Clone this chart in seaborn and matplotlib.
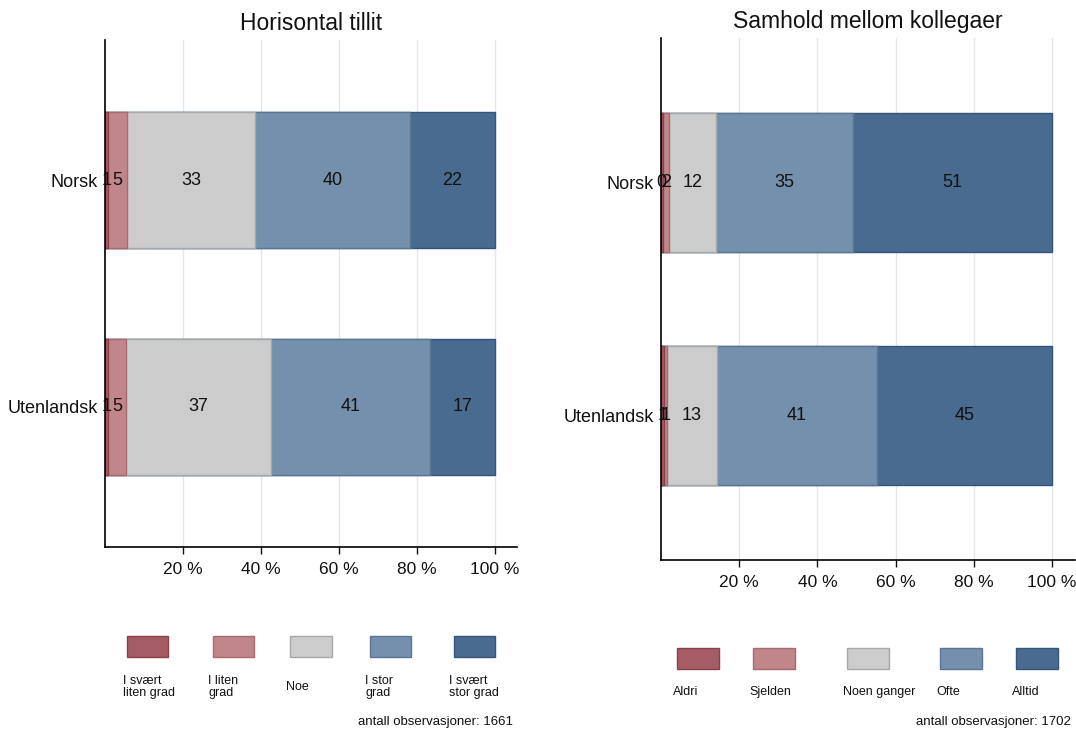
import seaborn as sns
import matplotlib.pyplot as plt
import pandas as pd
from matplotlib.patches import Rectangle

# Data (percent)
groups = ['Norsk', 'Utenlandsk']

tillit_cats = ['I svært\nliten grad', 'I liten\ngrad', 'Noe', 'I stor\ngrad', 'I svært\nstor grad']
tillit_norsk = [0.8, 4.9, 32.8, 39.6, 21.9]
tillit_utenl = [0.8, 4.6, 37.2, 40.6, 16.8]
tillit_n = 1661

samhold_cats = ['Aldri', 'Sjelden', 'Noen ganger', 'Ofte', 'Alltid']
samhold_norsk = [0.4, 1.6, 12.0, 35.0, 51.0]
samhold_utenl = [0.8, 0.8, 12.6, 41.0, 44.8]
samhold_n = 1702

colors = ['#a65c64', '#c0868a', '#cccccc', '#7590ac', '#486b8f']
edges = ['#8a4048', '#a86a70', '#a8a8a8', '#5a7694', '#34557a']

tick_vals = [20, 40, 60, 80, 100]
tick_labels = ['20 %', '40 %', '60 %', '80 %', '100 %']

sns.set_style('white')
plt.rcParams['font.family'] = ['Liberation Sans', 'DejaVu Sans']

W, H = 1076, 731
fig = plt.figure(figsize=(W / 100, H / 100), dpi=100)


def px_axes(x0, y0, x1, y1):
    # pixel box (top-left origin) -> figure axes
    return fig.add_axes([x0 / W, 1 - y1 / H, (x1 - x0) / W, (y1 - y0) / H])


def stacked_panel(ax, title, cats, vals_a, vals_b, xmax):
    df = pd.DataFrame({'group': groups * len(cats),
                       'cat': [c for c in cats for _ in groups],
                       'value': [v for pair in zip(vals_a, vals_b) for v in pair]})
    df['cum'] = df.groupby('group')['value'].cumsum()
    # draw from the outermost segment inwards so the bars stack
    for i in reversed(range(len(cats))):
        sub = df[df['cat'] == cats[i]]
        sns.barplot(data=sub, x='cum', y='group', order=groups, orient='h',
                    color=colors[i], saturation=1, edgecolor=edges[i],
                    linewidth=1, width=0.6, errorbar=None, ax=ax)
    for _, r in df.iterrows():
        ax.text(r['cum'] - r['value'] / 2, groups.index(r['group']),
                f"{r['value']:.0f}", ha='center', va='center',
                fontsize=13, color='#111111')
    ax.set_xlim(0, xmax)
    ax.set_ylim(1.62, -0.62)
    ax.set_xticks(tick_vals)
    ax.set_xticklabels(tick_labels, fontsize=12.5)
    ax.tick_params(axis='x', length=5, width=1, direction='out', pad=6,
                   bottom=True, colors='#111111')
    ax.tick_params(axis='y', length=0, pad=5, labelsize=13, colors='#111111')
    ax.xaxis.grid(True, color='#e6e6e6', linewidth=1)
    ax.set_axisbelow(True)
    sns.despine(ax=ax)
    for s in ['left', 'bottom']:
        ax.spines[s].set_color('black')
        ax.spines[s].set_linewidth(1.2)
    ax.set_xlabel('')
    ax.set_ylabel('')
    ax.set_title(title, fontsize=16.5, pad=7, color='#111111')


def legend_panel(ax, cats, centers, n_obs, box_y, label_y):
    ax.set_xlim(0, 1)
    ax.set_ylim(1, 0)
    ax.axis('off')
    bw, bh = 0.1, 0.19
    for i, c in enumerate(cats):
        ax.add_patch(Rectangle((centers[i] - bw / 2, box_y), bw, bh,
                               facecolor=colors[i], edgecolor=edges[i], linewidth=1))
        ax.text(centers[i] - bw / 2 - 0.01, label_y, c, ha='left', va='center',
                fontsize=9, linespacing=1.0, color='#111111')
    ax.text(0.99, 0.92, f'antall observasjoner: {n_obs}', ha='right',
            va='center', fontsize=9.5, color='#111111')


ax1 = px_axes(105, 40, 517, 547)
stacked_panel(ax1, 'Horisontal tillit', tillit_cats, tillit_norsk, tillit_utenl, 105.6)

ax2 = px_axes(661, 38, 1075, 560)
stacked_panel(ax2, 'Samhold mellom kollegaer', samhold_cats, samhold_norsk, samhold_utenl, 105.9)

lg1 = px_axes(105, 620, 517, 731)
legend_panel(lg1, tillit_cats, [0.104, 0.311, 0.5, 0.692, 0.896], tillit_n, 0.145, 0.6)

lg2 = px_axes(661, 620, 1075, 731)
legend_panel(lg2, samhold_cats, [0.089, 0.273, 0.5, 0.725, 0.908], samhold_n, 0.25, 0.65)

fig.savefig('out.png', dpi=100)
